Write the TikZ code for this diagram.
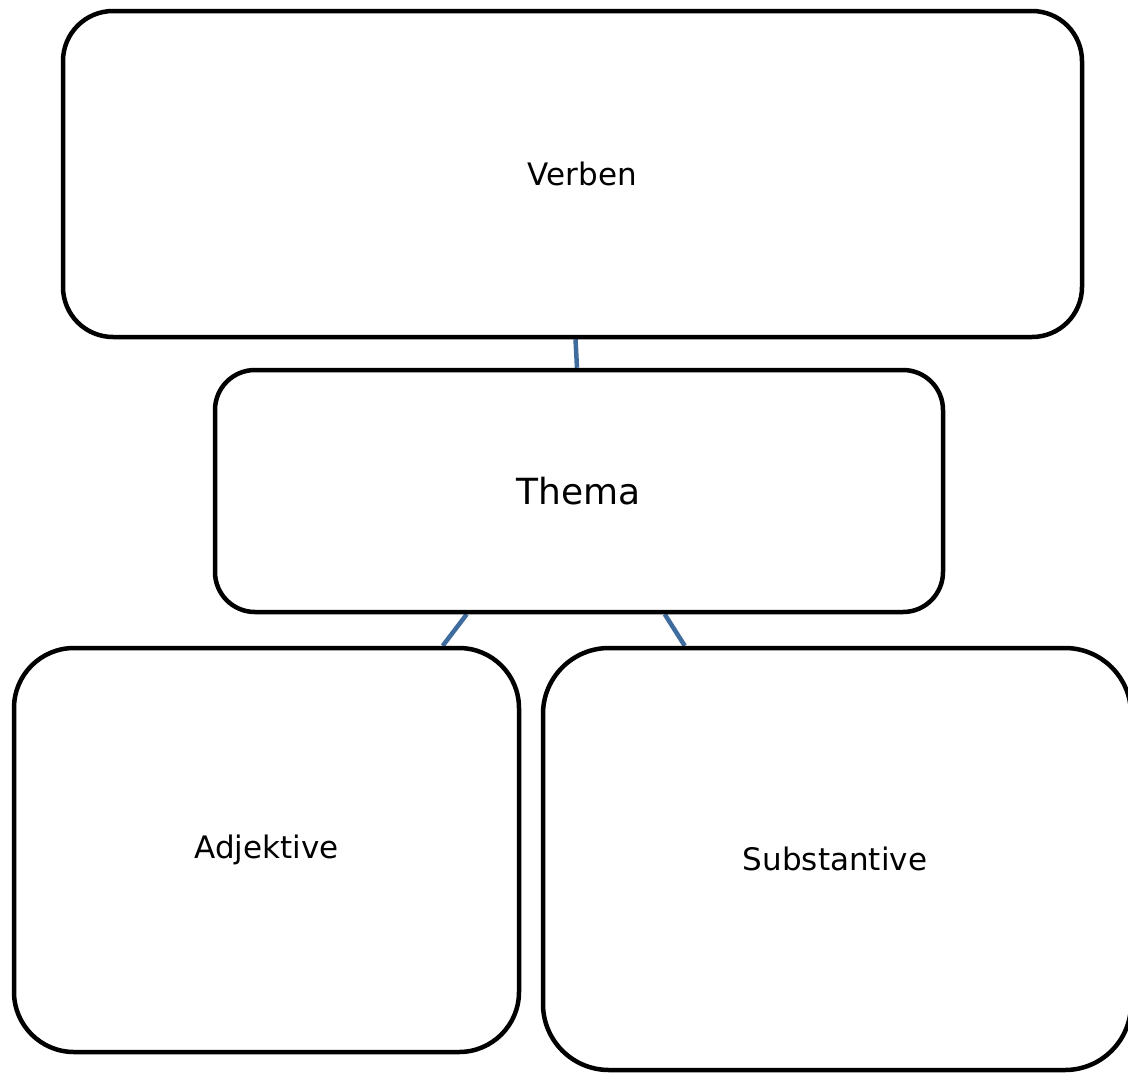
\documentclass[tikz,border=0pt]{standalone}
\usepackage{fontspec}
\setmainfont{DejaVu Sans}
\usetikzlibrary{backgrounds}
\definecolor{linkblue}{RGB}{63,108,158}
\tikzset{
  box/.style={draw=black, line width=4.5pt, fill=white, inner sep=0pt, font=\fontsize{31}{37}\selectfont},
  link/.style={draw=linkblue, line width=4.5pt}
}
\begin{document}
\begin{tikzpicture}[x=1pt,y=-1pt]
\useasboundingbox (0,0) rectangle (1128,1072);
\node[box, rounded corners=50pt, minimum width=1019pt, minimum height=326pt] (verben) at (572.5,174) {\hspace*{20pt}Verben};
\node[box, rounded corners=40pt, minimum width=728pt, minimum height=242pt, font=\fontsize{36}{43}\selectfont] (thema) at (579,491) {Thema};
\node[box, rounded corners=60pt, minimum width=505pt, minimum height=404pt] (adj) at (266.5,850) {Adjektive};
\node[box, rounded corners=66pt, minimum width=588pt, minimum height=422pt] (subst) at (837,859) {\hspace*{-4pt}Substantive};
\begin{scope}[on background layer]
\draw[link] ([xshift=3pt]verben.south) -- ([xshift=-2pt]thema.north);
\draw[link] ([xshift=254pt]thema.south west) -- ([xshift=431pt]adj.north west);
\draw[link] ([xshift=452pt]thema.south west) -- ([xshift=144pt]subst.north west);
\end{scope}
\end{tikzpicture}
\end{document}
